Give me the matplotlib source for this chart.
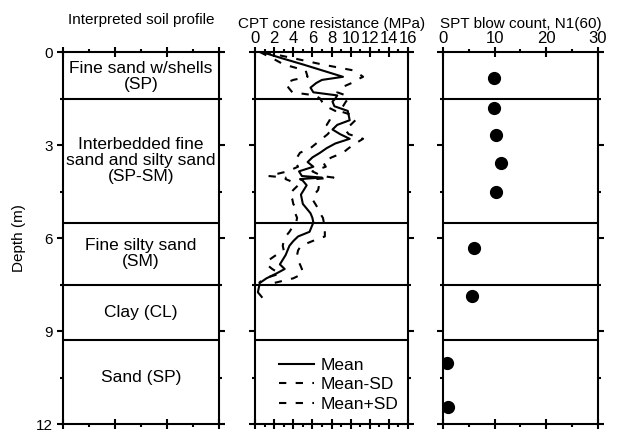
import matplotlib
matplotlib.use("Agg")
import matplotlib.pyplot as plt
import numpy as np
from matplotlib.ticker import MultipleLocator

plt.rcParams['font.family'] = ['Liberation Sans', 'DejaVu Sans']

# soil layers
layer_bounds = [1.5, 5.5, 7.5, 9.3]
layer_names = ["Fine sand w/shells\n(SP)",
               "Interbedded fine\nsand and silty sand\n(SP-SM)",
               "Fine silty sand\n(SM)",
               "Clay (CL)",
               "Sand (SP)"]
layer_label_depth = [0.8, 3.5, 6.5, 8.4, 10.5]

# CPT cone resistance (MPa)
cpt_depth = [0.0, 0.2, 0.4, 0.6, 0.8, 0.9, 1.0, 1.15, 1.3, 1.4, 1.5, 1.6, 1.75, 1.9,
             2.05, 2.2, 2.35, 2.5, 2.65, 2.8, 2.95, 3.1, 3.25, 3.4, 3.55, 3.7, 3.85,
             4.0, 4.05, 4.1, 4.15, 4.3, 4.45, 4.6, 4.75, 4.9, 5.05, 5.2, 5.35, 5.5,
             5.65, 5.8, 5.95, 6.1, 6.25, 6.4, 6.55, 6.7, 6.85, 7.0, 7.15, 7.3, 7.45,
             7.6, 7.75, 7.9]
cpt_mean = [0.7, 2.8, 5.0, 7.1, 9.2, 7.0, 6.4, 5.8, 6.1, 8.6, 8.4, 8.1, 8.3, 9.7,
            9.8, 9.9, 8.6, 8.1, 8.9, 9.9, 8.4, 7.5, 6.8, 6.0, 5.5, 6.1, 4.6,
            4.9, 7.0, 4.7, 5.0, 5.4, 5.1, 4.8, 4.9, 5.0, 5.4, 5.8, 6.0, 6.1,
            5.9, 5.7, 4.5, 4.0, 3.6, 3.4, 3.2, 2.9, 2.6, 3.1, 2.2, 1.2, 0.5,
            0.4, 0.3, 0.7]
cpt_minus_sd = [0.5, 1.8, 3.0, 5.3, 5.5, 4.0, 3.2, 3.5, 3.9, 6.3, 6.8, 7.0, 7.4, 8.4,
                8.0, 7.8, 7.5, 8.0, 7.6, 7.0, 6.4, 5.8, 4.7, 4.4, 4.2, 4.5, 3.4,
                1.4, 3.2, 3.2, 3.6, 4.5, 4.0, 3.6, 3.9, 4.0, 4.3, 4.2, 4.4, 4.3,
                3.9, 3.6, 3.2, 3.0, 2.9, 3.0, 2.2, 1.5, 1.2, 1.8, 2.6, 1.0, 0.4,
                np.nan, np.nan, np.nan]
cpt_plus_sd = [0.9, 4.0, 7.0, 10.4, 11.3, 10.6, 10.1, 9.0, 8.6, 9.5, 9.8, 9.5, 9.2, 8.8,
               10.3, 10.5, 10.0, 9.4, 9.8, 11.3, 10.5, 9.8, 9.2, 8.0, 7.1, 7.4, 6.0,
               7.0, 8.2, 6.3, 6.5, 6.7, 6.6, 6.2, 6.0, 6.3, 6.6, 6.8, 7.1, 7.2,
               7.3, 7.3, 7.3, 6.0, 4.8, 4.5, 4.4, 4.4, 4.7, 4.9, 5.0, 4.0, 2.0,
               np.nan, np.nan, np.nan]

# SPT blow count
spt_depth = [0.84, 1.8, 2.67, 3.57, 4.53, 6.33, 7.88, 10.03, 11.45]
spt_n160 = [9.9, 9.9, 10.3, 11.2, 10.3, 6.0, 5.6, 0.8, 1.0]

fig = plt.figure(figsize=(6.22, 4.32), dpi=100)
bottom, height = 0.0185, 0.8611
ax1 = fig.add_axes([0.1013, bottom, 0.2508, height])
ax2 = fig.add_axes([0.4100, bottom, 0.2460, height])
ax3 = fig.add_axes([0.7122, bottom, 0.2490, height])

for ax in (ax1, ax2, ax3):
    ax.set_ylim(12, 0)
    ax.yaxis.set_major_locator(MultipleLocator(3))
    ax.yaxis.set_minor_locator(MultipleLocator(1.5))
    for sp in ax.spines.values():
        sp.set_linewidth(1.5)
    ax.tick_params(axis='x', which='major', direction='inout', length=7, width=1.5,
                   top=True, bottom=True, labelsize=12, pad=1)
    ax.tick_params(axis='x', which='minor', direction='out', length=2.5, width=1.5,
                   top=True, bottom=True)
    ax.tick_params(axis='y', which='major', direction='out', length=4, width=1.5,
                   left=True, right=True, labelsize=11)
    ax.tick_params(axis='y', which='minor', direction='out', length=2.5, width=1.5,
                   left=True, right=True)
    for b in layer_bounds:
        ax.axhline(b, color='black', lw=1.5)

# soil profile
ax1.set_xlim(0, 3)
ax1.xaxis.set_major_locator(MultipleLocator(1))
ax1.xaxis.set_minor_locator(MultipleLocator(0.5))
ax1.tick_params(axis='x', labelbottom=False, labeltop=False)
for name, d in zip(layer_names, layer_label_depth):
    ax1.text(1.5, d, name, ha='center', va='center', fontsize=12.5, linespacing=1.1)
ax1.set_ylabel("Depth (m)", fontsize=11, labelpad=7)
ax1.set_title("Interpreted soil profile", fontsize=11, pad=20)

# CPT
ax2.plot(cpt_mean, cpt_depth, color='black', lw=1.5, label='Mean')
ax2.plot(cpt_minus_sd, cpt_depth, color='black', lw=1.5, dashes=(3.5, 4.5), label='Mean-SD')
ax2.plot(cpt_plus_sd, cpt_depth, color='black', lw=1.5, dashes=(3.5, 4.5), label='Mean+SD')
ax2.set_xlim(0, 16)
ax2.xaxis.set_major_locator(MultipleLocator(2))
ax2.xaxis.set_minor_locator(MultipleLocator(1))
ax2.tick_params(axis='x', labelbottom=False, labeltop=True)
ax2.tick_params(axis='y', labelleft=False)
ax2.set_title("CPT cone resistance (MPa)", fontsize=11, pad=2)
ax2.legend(loc='lower left', bbox_to_anchor=(0.08, 0.0), frameon=False, fontsize=12.5,
           handlelength=2.0, labelspacing=0.25, handletextpad=0.4, borderpad=0.2)

# SPT
ax3.plot(spt_n160, spt_depth, 'o', color='black', ms=8.5)
ax3.set_xlim(0, 30)
ax3.xaxis.set_major_locator(MultipleLocator(10))
ax3.xaxis.set_minor_locator(MultipleLocator(5))
ax3.tick_params(axis='x', labelbottom=False, labeltop=True)
ax3.tick_params(axis='y', labelleft=False)
ax3.set_title("SPT blow count, N1(60)", fontsize=11, pad=2)

fig.savefig("out.png", dpi=100)
